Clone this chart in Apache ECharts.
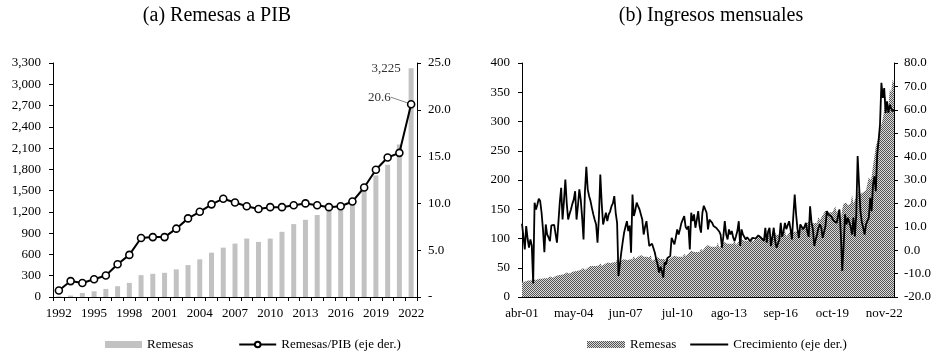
<!DOCTYPE html>
<html>
<head>
<meta charset="utf-8">
<script src="https://cdn.jsdelivr.net/npm/echarts@6/dist/echarts.min.js"></script>
<style>
html, body {margin:0; padding:0; background:#fff;}
#main {width:940px; height:351px;}
</style>
</head>
<body>
<div id="main"></div>
<script>
// (a) datos anuales
var anios = ['1992','1993','1994','1995','1996','1997','1998','1999','2000','2001','2002',
    '2003','2004','2005','2006','2007','2008','2009','2010','2011','2012','2013',
    '2014','2015','2016','2017','2018','2019','2020','2021','2022'];
var remesasAnual = [10, 20, 57, 80, 114, 152, 199, 308, 327, 341, 389,
    450, 531, 625, 696, 753, 824, 777, 824, 919, 1028, 1089,
    1156, 1217, 1274, 1335, 1515, 1714, 1866, 2150, 3225];
var remesasPib = [0.7, 1.7, 1.5, 1.9, 2.3, 3.5, 4.5, 6.3, 6.4, 6.4, 7.3,
    8.4, 9.1, 9.9, 10.5, 10.1, 9.7, 9.4, 9.6, 9.6, 9.8, 10.0,
    9.8, 9.6, 9.7, 10.2, 11.7, 13.6, 14.9, 15.4, 20.6];

// (b) datos mensuales, abr-2001 a jun-2023
var nombresMes = ['ene','feb','mar','abr','may','jun','jul','ago','sep','oct','nov','dic'];
var remesasMes = [
    26, 27, 26, 27, 28, 27, 28, 29, 31,                 // 2001
    29, 29, 31, 31, 32, 31, 32, 32, 33, 32, 33, 35,     // 2002
    33, 33, 35, 36, 38, 37, 37, 38, 38, 39, 39, 42,     // 2003
    39, 40, 42, 43, 45, 44, 44, 45, 45, 46, 46, 50,     // 2004
    46, 47, 50, 51, 53, 52, 53, 53, 53, 54, 54, 58,     // 2005
    53, 53, 56, 57, 59, 58, 58, 59, 59, 60, 60, 64,     // 2006
    58, 59, 62, 62, 65, 63, 63, 64, 64, 65, 65, 70,     // 2007
    65, 66, 69, 70, 72, 70, 69, 70, 69, 70, 68, 72,     // 2008
    62, 62, 65, 66, 68, 65, 65, 66, 65, 65, 64, 68,     // 2009
    64, 64, 68, 69, 71, 69, 69, 70, 69, 70, 69, 74,     // 2010
    70, 71, 75, 76, 79, 77, 77, 78, 77, 78, 77, 83,     // 2011
    79, 80, 85, 86, 89, 86, 86, 87, 86, 87, 86, 93,     // 2012
    84, 85, 90, 91, 94, 91, 91, 92, 91, 92, 91, 98,     // 2013
    89, 90, 95, 96, 99, 96, 96, 97, 96, 97, 96, 103,    // 2014
    94, 95, 100, 101, 104, 101, 101, 102, 101, 102, 101, 108,   // 2015
    98, 100, 105, 106, 110, 106, 106, 107, 106, 107, 106, 114,  // 2016
    103, 104, 110, 111, 115, 111, 111, 112, 111, 112, 111, 119, // 2017
    115, 116, 123, 125, 130, 127, 126, 128, 126, 128, 127, 137, // 2018
    131, 132, 140, 142, 148, 144, 143, 145, 143, 145, 144, 155, // 2019
    145, 146, 150, 132, 150, 160, 158, 161, 157, 160, 160, 175, // 2020
    160, 162, 172, 178, 185, 176, 176, 179, 178, 183, 185, 205, // 2021
    200, 205, 225, 240, 258, 265, 275, 288, 295, 305, 320, 345, // 2022
    320, 325, 355, 350, 372, 365                                // 2023
];
var crecimiento = [
    11.3, 10.5, 0.3, 10.3, 5.0, 1.1, 4.6, 2.0, -14.2,
    20.3, 17.4, 19.5, 22.0, 21.0, 16.0, 8.9, -0.9, 11.0, 6.7, 5.5, 3.9,
    10.6, 10.0, 10.8, 7.0, 3.2, 11.7, 20.3, 26.7, 13.1, 21.0, 30.2, 20.0,
    13.1, 15.5, 17.4, 19.8, 21.6, 25.2, 13.1, 19.0, 26.0, 21.6, 14.0, 4.6,
    25.0, 35.6, 26.0, 23.1, 21.0, 18.0, 15.3, 13.0, 11.0, 3.2, 14.0, 32.3,
    20.0, 11.0, 13.5, 16.0, 12.4, 15.3, 16.5, 18.8, 20.0, 23.1, 16.0, 11.7,
    -11.0, -6.0, -0.9, 3.5, 7.5, 10.0, 12.4, 8.2, 10.5, -1.1, 23.8, 14.6,
    17.0, 20.3, 18.8, 17.5, 16.7, 13.1, 6.7, 10.0, 12.4, 7.0, 1.8, 2.4,
    2.8, 3.2, -1.1, -4.0, -6.1, -9.6, -7.0, -9.0, -11.7, -5.2, -6.1, -3.3,
    -3.0, -2.5, 5.3, 6.0, 2.5, 5.5, 8.9, 6.7, 9.0, 11.7, 12.5, 14.6,
    10.0, 8.9, 10.3, 0.3, 16.0, 12.4, 15.3, 9.6, 13.0, 16.7, 10.3, 7.5,
    16.0, 19.0, 18.8, 16.0, 8.9, 13.1, 12.4, 11.7, 10.3, 9.6, 9.5, 8.9,
    8.0, 6.7, 1.1, 6.0, 12.4, 6.7, 4.6, 8.9, 6.7, 8.2, 5.5, 3.9,
    6.0, 8.2, 12.4, 1.8, 8.9, 6.7, 6.0, 4.6, 5.5, 5.0, 3.9, 4.6,
    5.3, 4.6, 5.0, 4.8, 6.3, 6.3, 5.3, 4.6, 4.0, 9.6, 3.2, 8.0,
    9.6, 1.8, 5.5, 9.6, 4.0, 1.1, 1.5, 4.6, 11.7, 5.7, 8.0, 11.7,
    9.0, 8.2, 12.4, 9.0, 4.6, 14.6, 23.8, 15.3, 9.0, 5.3, 11.0, 10.0,
    8.9, 10.0, 11.7, 8.0, 5.7, 18.8, 12.0, 8.9, 1.8, 4.5, 6.7, 9.6,
    11.0, 9.6, 5.3, 4.6, 10.3, 16.7, 15.3, 16.0, 14.5, 13.9, 12.5, 13.2,
    11.7, 12.0, 17.4, 6.7, -8.9, 2.0, 15.3, 11.0, 13.9, 12.0, 10.0, 6.7,
    13.9, 5.9, 15.0, 40.2, 28.1, 16.7, 12.0, 9.6, 6.7, 11.0, 12.5, 13.9,
    22.4, 16.7, 28.1, 31.6, 25.2, 40.9, 47.0, 53.7, 71.5, 65.1, 69.3, 58.7,
    63.6, 58.7, 62.2, 60.5, 59.4, 60.1
];

// etiquetas mes-año, desde abr-01
var meses = [];
for (var i = 0; i < remesasMes.length; i++) {
    var m = (3 + i) % 12;
    var a = 2001 + Math.floor((3 + i) / 12);
    meses.push(nombresMes[m] + '-' + String(a).slice(2));
}

var fuente = 'Liberation Serif';
var texto = {fontFamily: fuente, fontSize: 13, color: '#000'};

// trama cuadriculada del area
function crearTrama() {
    var c = document.createElement('canvas');
    c.width = 2;
    c.height = 2;
    var ctx = c.getContext('2d');
    ctx.fillStyle = '#dadada';
    ctx.fillRect(0, 0, 2, 2);
    ctx.fillStyle = '#555555';
    ctx.fillRect(0, 0, 1, 1);
    ctx.fillRect(1, 1, 1, 1);
    return c;
}
var trama = {image: crearTrama(), repeat: 'repeat'};

function miles(v) {
    return Number(v).toLocaleString('en-US');
}

// barras con etiqueta en el ultimo anio
var barData = remesasAnual.map(function (v, i) {
    if (i == remesasAnual.length - 1) {
        return {value: v, label: {show: true, position: [-8, 0], align: 'right', verticalAlign: 'middle',
            formatter: function (p) { return miles(p.value); }, fontFamily: fuente, fontSize: 13, color: '#333'}};
    }
    return v;
});
var pibData = remesasPib.map(function (v, i) {
    if (i == remesasPib.length - 1) {
        return {value: v, label: {show: true, position: 'left', distance: 4,
            formatter: function (p) { return p.value.toFixed(1); }, fontFamily: fuente, fontSize: 13, color: '#333'}};
    }
    return v;
});

var lineaEje = {show: true, lineStyle: {color: '#000', width: 1}};
var tickEje = {show: true, length: 4, lineStyle: {color: '#000'}};
var sinMarca = {color: 'rgba(0,0,0,0)', borderColor: 'rgba(0,0,0,0)', borderWidth: 0};

var option = {
    animation: false,
    title: [
        {text: '(a) Remesas a PIB', left: 212, top: 1, textAlign: 'center',
            textStyle: {fontFamily: fuente, fontSize: 20, fontWeight: 'normal', color: '#000'}},
        {text: '(b) Ingresos mensuales', left: 706, top: 1, textAlign: 'center',
            textStyle: {fontFamily: fuente, fontSize: 20, fontWeight: 'normal', color: '#000'}}
    ],
    legend: [
        {
            left: 100, top: 333, itemGap: 45, itemWidth: 37, itemHeight: 7,
            textStyle: texto,
            data: [{name: 'Remesas', icon: 'rect'}, {name: 'Remesas/PIB (eje der.)'}]
        },
        {
            left: 582, top: 333, itemGap: 13, itemWidth: 38, itemHeight: 7,
            textStyle: texto,
            formatter: function (n) { return n.trim(); },
            data: [{name: 'Remesas ', icon: 'rect', itemStyle: {color: trama}},
                {name: 'Crecimiento (eje der.)', itemStyle: sinMarca}]
        }
    ],
    grid: [
        {left: 53, right: 523, top: 63, bottom: 54},
        {left: 522, right: 46, top: 63, bottom: 54}
    ],
    xAxis: [
        {
            type: 'category', gridIndex: 0, data: anios, boundaryGap: true,
            axisLine: lineaEje,
            axisTick: {show: true, length: 4, interval: 0, lineStyle: {color: '#000'}},
            axisLabel: {fontFamily: fuente, fontSize: 13, color: '#000', interval: 2, margin: 10}
        },
        {
            type: 'category', gridIndex: 1, data: meses, boundaryGap: false,
            axisLine: lineaEje,
            axisTick: {show: true, length: 4, inside: true, interval: 36, lineStyle: {color: '#000'}},
            axisLabel: {fontFamily: fuente, fontSize: 13, color: '#000', interval: 36, margin: 10}
        }
    ],
    yAxis: [
        {
            type: 'value', gridIndex: 0, min: 0, max: 3300, interval: 300,
            axisLine: lineaEje, axisTick: tickEje, splitLine: {show: false},
            axisLabel: {fontFamily: fuente, fontSize: 13, color: '#000', margin: 12, formatter: miles}
        },
        {
            type: 'value', gridIndex: 0, position: 'right', min: 0, max: 25, interval: 5,
            axisLine: lineaEje, axisTick: tickEje, splitLine: {show: false},
            axisLabel: {fontFamily: fuente, fontSize: 13, color: '#000', margin: 11,
                formatter: function (v) { return v == 0 ? '-' : v.toFixed(1); }}
        },
        {
            type: 'value', gridIndex: 1, min: 0, max: 400, interval: 50,
            axisLine: lineaEje, axisTick: tickEje, splitLine: {show: false},
            axisLabel: {fontFamily: fuente, fontSize: 13, color: '#000', margin: 12}
        },
        {
            type: 'value', gridIndex: 1, position: 'right', min: -20, max: 80, interval: 10,
            axisLine: lineaEje, axisTick: tickEje, splitLine: {show: false},
            axisLabel: {fontFamily: fuente, fontSize: 13, color: '#000', margin: 10,
                formatter: function (v) { return v.toFixed(1); }}
        }
    ],
    series: [
        {
            name: 'Remesas', type: 'bar', xAxisIndex: 0, yAxisIndex: 0,
            barWidth: 5, itemStyle: {color: '#c2c2c2'},
            data: barData
        },
        {
            name: 'Remesas/PIB (eje der.)', type: 'line', xAxisIndex: 0, yAxisIndex: 1,
            symbol: 'circle', symbolSize: 7,
            itemStyle: {color: '#fff', borderColor: '#000', borderWidth: 1.6},
            lineStyle: {color: '#000', width: 2},
            // etiqueta 20.6 desplazada con linea guia
            labelLayout: {dx: -12, dy: -7},
            labelLine: {show: true, lineStyle: {color: '#888', width: 1}},
            data: pibData
        },
        {
            name: 'Remesas ', type: 'line', xAxisIndex: 1, yAxisIndex: 2,
            symbol: 'none', lineStyle: {width: 0}, itemStyle: {color: '#777'},
            areaStyle: {color: trama, opacity: 1},
            data: remesasMes
        },
        {
            name: 'Crecimiento (eje der.)', type: 'line', xAxisIndex: 1, yAxisIndex: 3,
            symbol: 'none', lineStyle: {color: '#000', width: 1.8}, itemStyle: {color: '#000'},
            z: 5,
            data: crecimiento
        }
    ]
};

var grafico = echarts.init(document.getElementById('main'));
grafico.setOption(option);
</script>
</body>
</html>
